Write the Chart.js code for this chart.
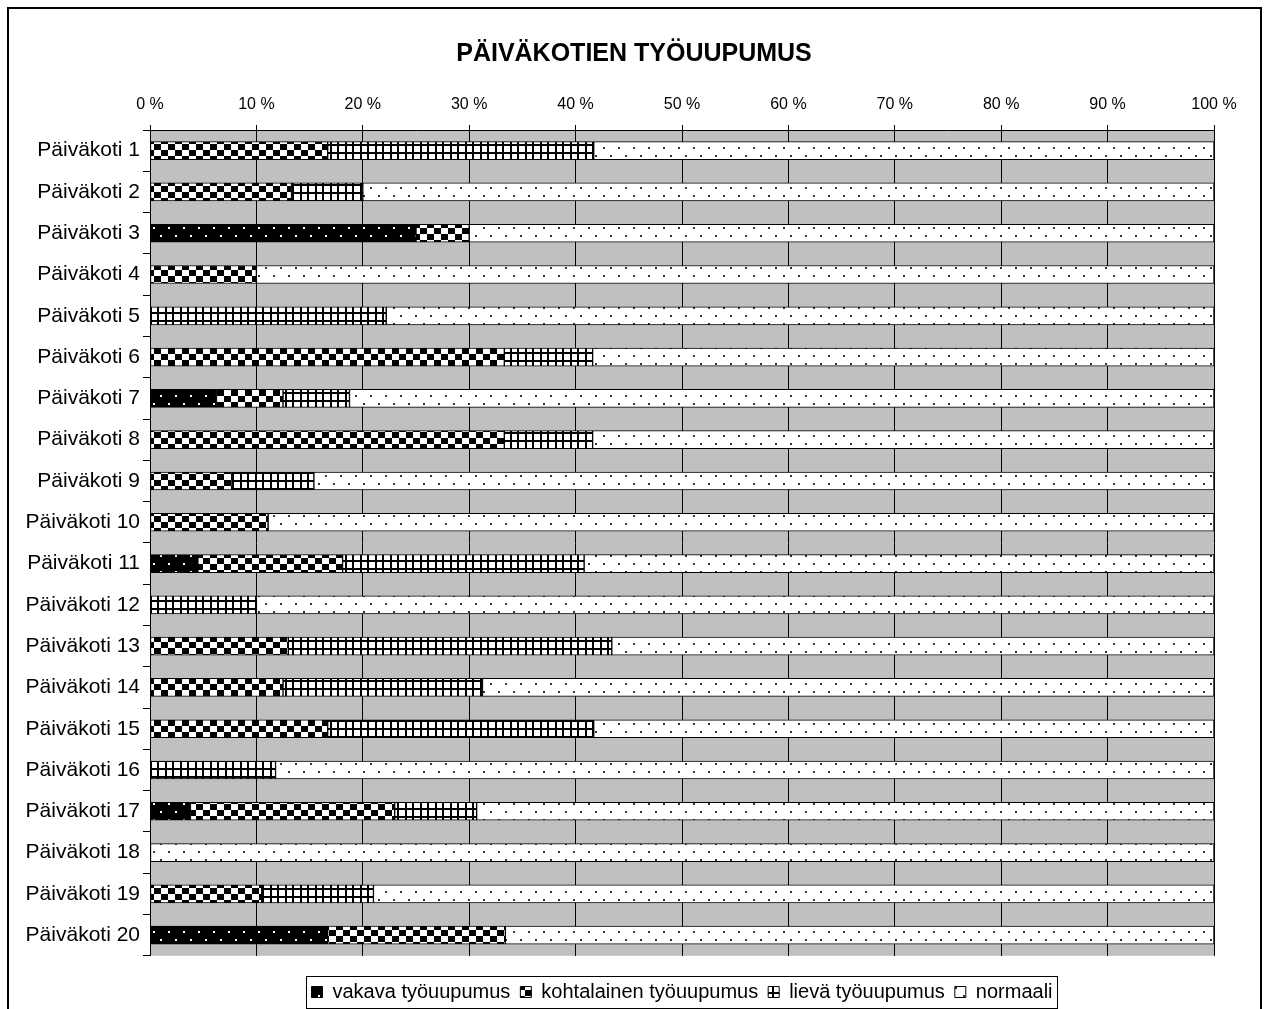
<!DOCTYPE html>
<html><head><meta charset="utf-8">
<script src="https://cdn.jsdelivr.net/npm/chart.js@4/dist/chart.umd.min.js"></script>
<style>html,body{margin:0;padding:0;background:#fff;overflow:hidden}canvas{display:block}</style>
</head><body>
<canvas id="c" width="1268" height="1009"></canvas>
<script>
const titleText = 'PÄIVÄKOTIEN TYÖUUPUMUS';
const categories = ['Päiväkoti 1','Päiväkoti 2','Päiväkoti 3','Päiväkoti 4','Päiväkoti 5','Päiväkoti 6','Päiväkoti 7','Päiväkoti 8','Päiväkoti 9','Päiväkoti 10','Päiväkoti 11','Päiväkoti 12','Päiväkoti 13','Päiväkoti 14','Päiväkoti 15','Päiväkoti 16','Päiväkoti 17','Päiväkoti 18','Päiväkoti 19','Päiväkoti 20'];
const seriesNames = ['vakava työuupumus','kohtalainen työuupumus','lievä työuupumus','normaali'];
const vakava      = [0,0,25,0,0,0,6.25,0,0,0,4.5,0,0,0,0,0,3.8,0,0,16.7];
const kohtalainen = [16.7,13.3,5,10,0,33.3,6.25,33.3,7.7,11.1,13.6,0,13,12.5,16.7,0,19.2,0,10.5,16.7];
const lieva       = [25,6.7,0,0,22.2,8.3,6.25,8.3,7.7,0,22.7,10,30.4,18.75,25,11.8,7.7,0,10.5,0];
const normaali    = [58.3,80,70,90,77.8,58.4,81.25,58.4,84.6,88.9,59.2,90,56.6,68.75,58.3,88.2,69.3,100,79,66.6];
const xTicks = [0,10,20,30,40,50,60,70,80,90,100];

const ctx = document.getElementById('c').getContext('2d');
function makePattern(w, h, draw) {
  const c = document.createElement('canvas');
  c.width = w; c.height = h;
  const g = c.getContext('2d');
  draw(g, w, h);
  return ctx.createPattern(c, 'repeat');
}
const patVakava = makePattern(15, 16, (g) => {
  g.fillStyle = '#000'; g.fillRect(0, 0, 15, 16);
  g.fillStyle = '#fff'; g.fillRect(3, 3, 2, 2); g.fillRect(10, 11, 2, 2);
});
const patKoht = makePattern(14, 12, (g) => {
  g.fillStyle = '#fff'; g.fillRect(0, 0, 14, 12);
  g.fillStyle = '#000'; g.fillRect(0, 0, 7, 6); g.fillRect(7, 6, 7, 6);
});
const patLieva = makePattern(15, 16, (g) => {
  g.fillStyle = '#fff'; g.fillRect(0, 0, 15, 16);
  g.fillStyle = '#000';
  g.fillRect(0, 0, 2, 16); g.fillRect(7, 0, 2, 16);
  g.fillRect(0, 0, 15, 2); g.fillRect(0, 8, 15, 2);
});
const patNorm = makePattern(15, 16, (g) => {
  g.fillStyle = '#fff'; g.fillRect(0, 0, 15, 16);
  g.fillStyle = '#333'; g.fillRect(3, 3, 2, 2); g.fillRect(10, 11, 2, 2);
});
const fills = [patVakava, patKoht, patLieva, patNorm];
const values = [vakava, kohtalainen, lieva, normaali];

const FONT = "'Liberation Sans', Arial, sans-serif";
Chart.defaults.color = '#000';
Chart.defaults.font.family = FONT;

const bgPlugin = {
  id: 'bg',
  beforeDraw(chart) {
    const c = chart.ctx, a = chart.chartArea;
    c.save();
    c.fillStyle = '#fff'; c.fillRect(0, 0, chart.width, chart.height);
    c.fillStyle = '#C0C0C0'; c.fillRect(a.left, a.top, a.right - a.left, a.bottom - a.top);
    c.restore();
  },
  afterDraw(chart) {
    const c = chart.ctx;
    c.save();
    c.strokeStyle = '#000'; c.lineWidth = 2;
    c.beginPath();
    c.moveTo(8, chart.height + 2); c.lineTo(8, 8); c.lineTo(1261, 8); c.lineTo(1261, chart.height + 2);
    c.stroke();
    const hb = chart.legend.legendHitBoxes;
    if (hb && hb.length) {
      let l = Infinity, r = -Infinity, t = Infinity, b = -Infinity;
      hb.forEach(h => { l = Math.min(l, h.left); r = Math.max(r, h.left + h.width); t = Math.min(t, h.top); b = Math.max(b, h.top + h.height); });
      c.lineWidth = 1;
      c.strokeRect(Math.round(l - 5) + 0.5, Math.round(t - 6) + 0.5, Math.round(r - l + 10), Math.round(b - t + 12));
    }
    c.restore();
  }
};

new Chart(ctx, {
  type: 'bar',
  data: {
    labels: categories,
    datasets: seriesNames.map((n, i) => ({
      label: n,
      data: values[i].map(v => v === 0 ? null : v),
      backgroundColor: fills[i],
      borderColor: '#000',
      borderWidth: 1,
      borderSkipped: false,
      barThickness: 18,
      yAxisID: 'y',
      xAxisID: 'x'
    }))
  },
  options: {
    indexAxis: 'y',
    responsive: false,
    animation: false,
    devicePixelRatio: 1,
    layout: { padding: { left: 0, right: 0, top: 0, bottom: -3 } },
    plugins: {
      title: {
        display: true, text: titleText, color: '#000',
        font: { family: FONT, size: 25, weight: 'bold' },
        padding: { top: 39, bottom: 0 }
      },
      legend: {
        position: 'bottom',
        fullSize: false,
        title: { display: true, text: '', font: { size: 1 }, padding: { top: 15, bottom: 0 } },
        labels: { boxWidth: 11, boxHeight: 11, padding: 10, color: '#000', font: { family: FONT, size: 20 } }
      },
      tooltip: { enabled: false }
    },
    scales: {
      x: {
        position: 'top', stacked: true, min: 0, max: 100,
        afterFit: s => { s.height = 61; },
        afterBuildTicks: s => { s.ticks = xTicks.map(v => ({ value: v })); },
        ticks: { callback: v => v + ' %', font: { family: FONT, size: 16 }, color: '#000', padding: 11, maxRotation: 0 },
        grid: { color: '#000', lineWidth: 1, tickLength: 5, drawOnChartArea: true },
        border: { display: true, color: '#000', width: 1 }
      },
      y: {
        position: 'left', stacked: true,
        afterFit: s => { s.width = 150; },
        ticks: { font: { family: FONT, size: 21 }, color: '#000', padding: 3 },
        grid: { drawOnChartArea: false, color: '#000', tickLength: 7, offset: true },
        border: { display: true, color: '#000', width: 1 }
      },
      y2: {
        type: 'category', labels: categories, position: 'right',
        afterFit: s => { s.width = 54; },
        ticks: { display: false },
        grid: { display: false },
        border: { display: false }
      }
    }
  },
  plugins: [bgPlugin]
});
</script>
</body></html>
